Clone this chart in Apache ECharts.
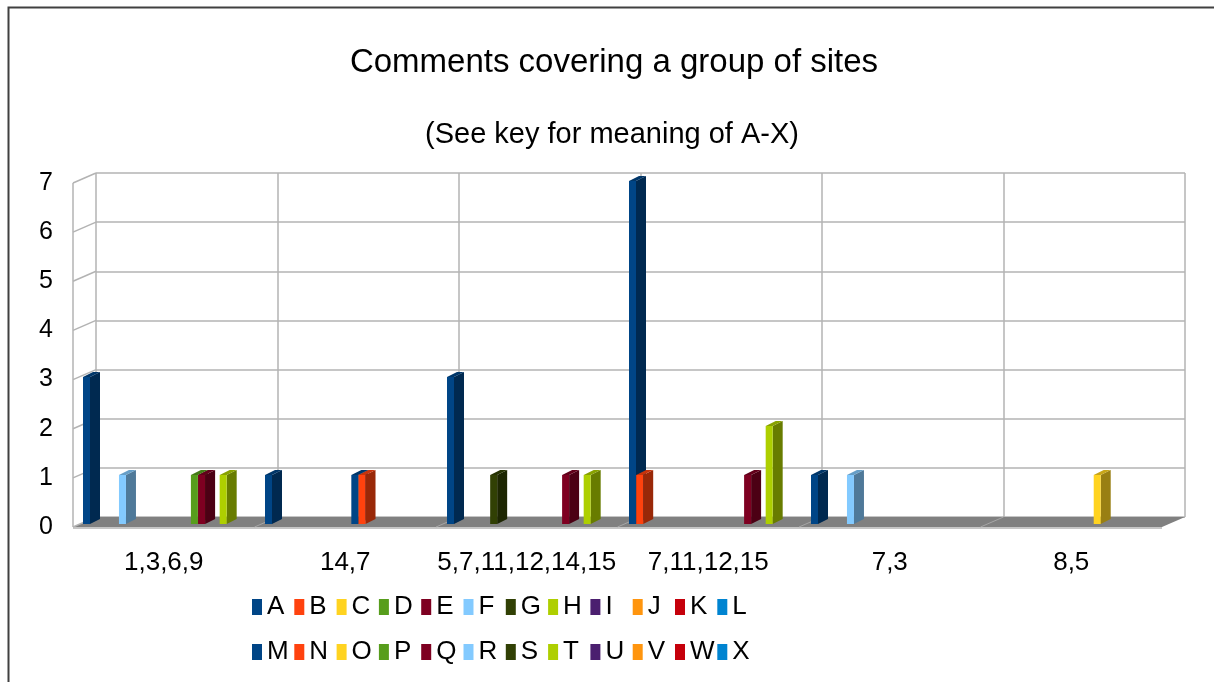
<!DOCTYPE html>
<html>
<head>
<meta charset="utf-8">
<script src="https://cdn.jsdelivr.net/npm/echarts@6/dist/echarts.min.js"></script>
<style>
  html, body { margin: 0; padding: 0; background: #fff; }
  #chart { width: 1214px; height: 682px; }
</style>
</head>
<body>
<div id="chart"></div>
<script>
const categories = ['1,3,6,9', '14,7', '5,7,11,12,14,15', '7,11,12,15', '7,3', '8,5'];
const letters = ['A', 'B', 'C', 'D', 'E', 'F', 'G', 'H', 'I', 'J', 'K', 'L',
                 'M', 'N', 'O', 'P', 'Q', 'R', 'S', 'T', 'U', 'V', 'W', 'X'];
const yTicks = [0, 1, 2, 3, 4, 5, 6, 7];

// values per key, one per category
const A = [3, 1, 3, 7, 1, 0];
const B = [0, 0, 0, 1, 0, 0];
const C = [0, 0, 0, 0, 0, 0];
const D = [0, 0, 0, 0, 0, 0];
const E = [0, 0, 0, 0, 0, 0];
const F = [1, 0, 0, 0, 1, 0];
const G = [0, 0, 1, 0, 0, 0];
const H = [0, 0, 0, 0, 0, 0];
const I = [0, 0, 0, 0, 0, 0];
const J = [0, 0, 0, 0, 0, 0];
const K = [0, 0, 0, 0, 0, 0];
const L = [0, 0, 0, 0, 0, 0];
const M = [0, 1, 0, 0, 0, 0];
const N = [0, 1, 0, 0, 0, 0];
const O = [0, 0, 0, 0, 0, 1];
const P = [1, 0, 0, 0, 0, 0];
const Q = [1, 0, 1, 1, 0, 0];
const R = [0, 0, 0, 0, 0, 0];
const S = [0, 0, 0, 0, 0, 0];
const T = [1, 0, 1, 2, 0, 0];
const U = [0, 0, 0, 0, 0, 0];
const V = [0, 0, 0, 0, 0, 0];
const W = [0, 0, 0, 0, 0, 0];
const X = [0, 0, 0, 0, 0, 0];
const seriesValues = [A, B, C, D, E, F, G, H, I, J, K, L, M, N, O, P, Q, R, S, T, U, V, W, X];

// LibreOffice default palette, repeats after 12
const palette = ['#004586', '#ff420e', '#ffd320', '#579d1c', '#7e0021', '#83caff',
                 '#314004', '#aecf00', '#4b1f6f', '#ff950e', '#c5000b', '#0084d1'];

const font = 'Liberation Sans, Arial, sans-serif';

function shade(hex, k) {
  const n = parseInt(hex.slice(1), 16);
  const r = Math.round(((n >> 16) & 255) * k);
  const g = Math.round(((n >> 8) & 255) * k);
  const b = Math.round((n & 255) * k);
  return 'rgb(' + r + ',' + g + ',' + b + ')';
}

// pseudo 3d bar: front face, side face, top face
function renderBar(params, api) {
  const v = api.value(1);
  if (!v) return null;
  const c = api.value(0);
  const base = api.coord([c, 0]);
  const top = api.coord([c, v]);
  const band = api.size([1, 0])[0];
  const step = band / 25.3;
  const fw = 7, dx = 10, dy = 5;
  const x0 = base[0] - band / 2 + params.seriesIndex * step;
  const y0 = base[1], y1 = top[1];
  const col = palette[params.seriesIndex % 12];
  return {
    type: 'group',
    children: [
      {
        type: 'polygon',
        shape: { points: [[x0 + fw, y1], [x0 + fw + dx, y1 - dy], [x0 + fw + dx, y0 - dy], [x0 + fw, y0]] },
        style: { fill: shade(col, 0.6) }
      },
      {
        type: 'polygon',
        shape: { points: [[x0, y1], [x0 + dx, y1 - dy], [x0 + fw + dx, y1 - dy], [x0 + fw, y1]] },
        style: { fill: shade(col, 0.78) }
      },
      {
        type: 'rect',
        shape: { x: x0, y: y1, width: fw, height: y0 - y1 },
        style: { fill: col }
      }
    ]
  };
}

const chart = echarts.init(document.getElementById('chart'));

const series = letters.map(function (name, i) {
  return {
    name: name,
    type: 'custom',
    xAxisIndex: 2,
    yAxisIndex: 2,
    renderItem: renderBar,
    itemStyle: { color: palette[i % 12] },
    data: seriesValues[i].map(function (v, c) { return [c, v]; }),
    encode: { x: 0, y: 1 },
    clip: false,
    z: 3
  };
});

// one small legend per column so the two rows line up
const keyText = { fontSize: 26, fontFamily: font, color: '#000' };
const legends = [];
for (let i = 0; i < 12; i++) {
  legends.push({
    data: [letters[i], letters[i + 12]].map(function (n) {
      return { name: n, icon: 'rect', textStyle: keyText };
    }),
    orient: 'vertical',
    left: 252 + i * 42.3, top: 594, padding: 0,
    itemWidth: 10, itemHeight: 16, itemGap: 19,
    textStyle: keyText
  });
}

chart.setOption({
  animation: false,
  backgroundColor: '#fff',
  title: [
    {
      text: 'Comments covering a group of sites',
      left: 614, top: 46, textAlign: 'center', padding: 0,
      textStyle: { fontSize: 33, fontWeight: 'normal', fontFamily: font, color: '#000' }
    },
    {
      text: '(See key for meaning of A-X)',
      left: 612, top: 120, textAlign: 'center', padding: 0,
      textStyle: { fontSize: 29, fontWeight: 'normal', fontFamily: font, color: '#000' }
    }
  ],
  legend: legends,
  grid: [
    // back wall
    { left: 96, right: 29, top: 173, bottom: 165 },
    // front plane (labels)
    { left: 73, right: 52, top: 183, bottom: 155 },
    // bars
    { left: 83, right: 39, top: 181, bottom: 158 }
  ],
  xAxis: [
    {
      gridIndex: 0, type: 'category', data: categories,
      axisLine: { show: false }, axisTick: { show: false }, axisLabel: { show: false },
      splitLine: { show: true, lineStyle: { color: '#b3b3b3', width: 1.5 } }
    },
    {
      gridIndex: 1, type: 'category', data: categories,
      axisLine: { show: false }, axisTick: { show: false }, splitLine: { show: false },
      axisLabel: { interval: 0, fontSize: 26, fontFamily: font, color: '#000', margin: 23 }
    },
    { gridIndex: 2, type: 'category', data: categories, show: false }
  ],
  yAxis: [
    {
      gridIndex: 0, type: 'value', min: 0, max: 7, interval: 1,
      axisLine: { show: false }, axisTick: { show: false }, axisLabel: { show: false },
      splitLine: { show: true, lineStyle: { color: '#b3b3b3', width: 1.5 } }
    },
    {
      gridIndex: 1, type: 'value', min: 0, max: 7, interval: 1,
      axisLine: { show: false }, axisTick: { show: false }, splitLine: { show: false },
      axisLabel: { fontSize: 25, fontFamily: font, color: '#000', margin: 20 }
    },
    { gridIndex: 2, type: 'value', min: 0, max: 7, interval: 1, show: false }
  ],
  series: series
});

// walls and floor, placed with the axes' own scales
function wallGraphics() {
  const back0 = chart.convertToPixel({ gridIndex: 0 }, [0, 0]);
  const back1 = chart.convertToPixel({ gridIndex: 0 }, [1, 0]);
  const front0 = chart.convertToPixel({ gridIndex: 1 }, [0, 0]);
  const front1 = chart.convertToPixel({ gridIndex: 1 }, [1, 0]);
  const bandB = back1[0] - back0[0];
  const bandF = front1[0] - front0[0];
  const leftB = back0[0] - bandB / 2;
  const leftF = front0[0] - bandF / 2;
  const nCat = categories.length;
  const yB0 = back0[1], yF0 = front0[1];
  const items = [];

  items.push({
    type: 'polygon', z: 1,
    shape: { points: [[leftF, yF0], [leftF + nCat * bandF, yF0], [leftB + nCat * bandB, yB0], [leftB, yB0]] },
    style: { fill: '#808080' }
  });
  for (let k = 1; k < nCat; k++) {
    items.push({
      type: 'line', z: 1,
      shape: { x1: leftF + k * bandF, y1: yF0, x2: leftB + k * bandB, y2: yB0 },
      style: { stroke: '#a6a6a6', lineWidth: 1 }
    });
  }
  items.push({
    type: 'line', z: 1,
    shape: { x1: leftF, y1: yF0 + 1, x2: leftF + nCat * bandF, y2: yF0 + 1 },
    style: { stroke: '#b3b3b3', lineWidth: 1.5 }
  });
  yTicks.forEach(function (t) {
    const f = chart.convertToPixel({ gridIndex: 1 }, [0, t]);
    const b = chart.convertToPixel({ gridIndex: 0 }, [0, t]);
    items.push({
      type: 'line', z: 1,
      shape: { x1: leftF, y1: f[1], x2: leftB, y2: b[1] },
      style: { stroke: '#b3b3b3', lineWidth: 1.5 }
    });
  });
  const fTop = chart.convertToPixel({ gridIndex: 1 }, [0, yTicks[yTicks.length - 1]]);
  items.push({
    type: 'line', z: 1,
    shape: { x1: leftF, y1: fTop[1], x2: leftF, y2: yF0 },
    style: { stroke: '#b3b3b3', lineWidth: 1.5 }
  });
  // outer frame of the chart area
  items.push({
    type: 'rect', z: 0,
    shape: { x: 8.5, y: 7.5, width: 1300, height: 800 },
    style: { fill: 'none', stroke: '#404040', lineWidth: 2 }
  });
  return items;
}

chart.setOption({ graphic: wallGraphics() });
</script>
</body>
</html>
